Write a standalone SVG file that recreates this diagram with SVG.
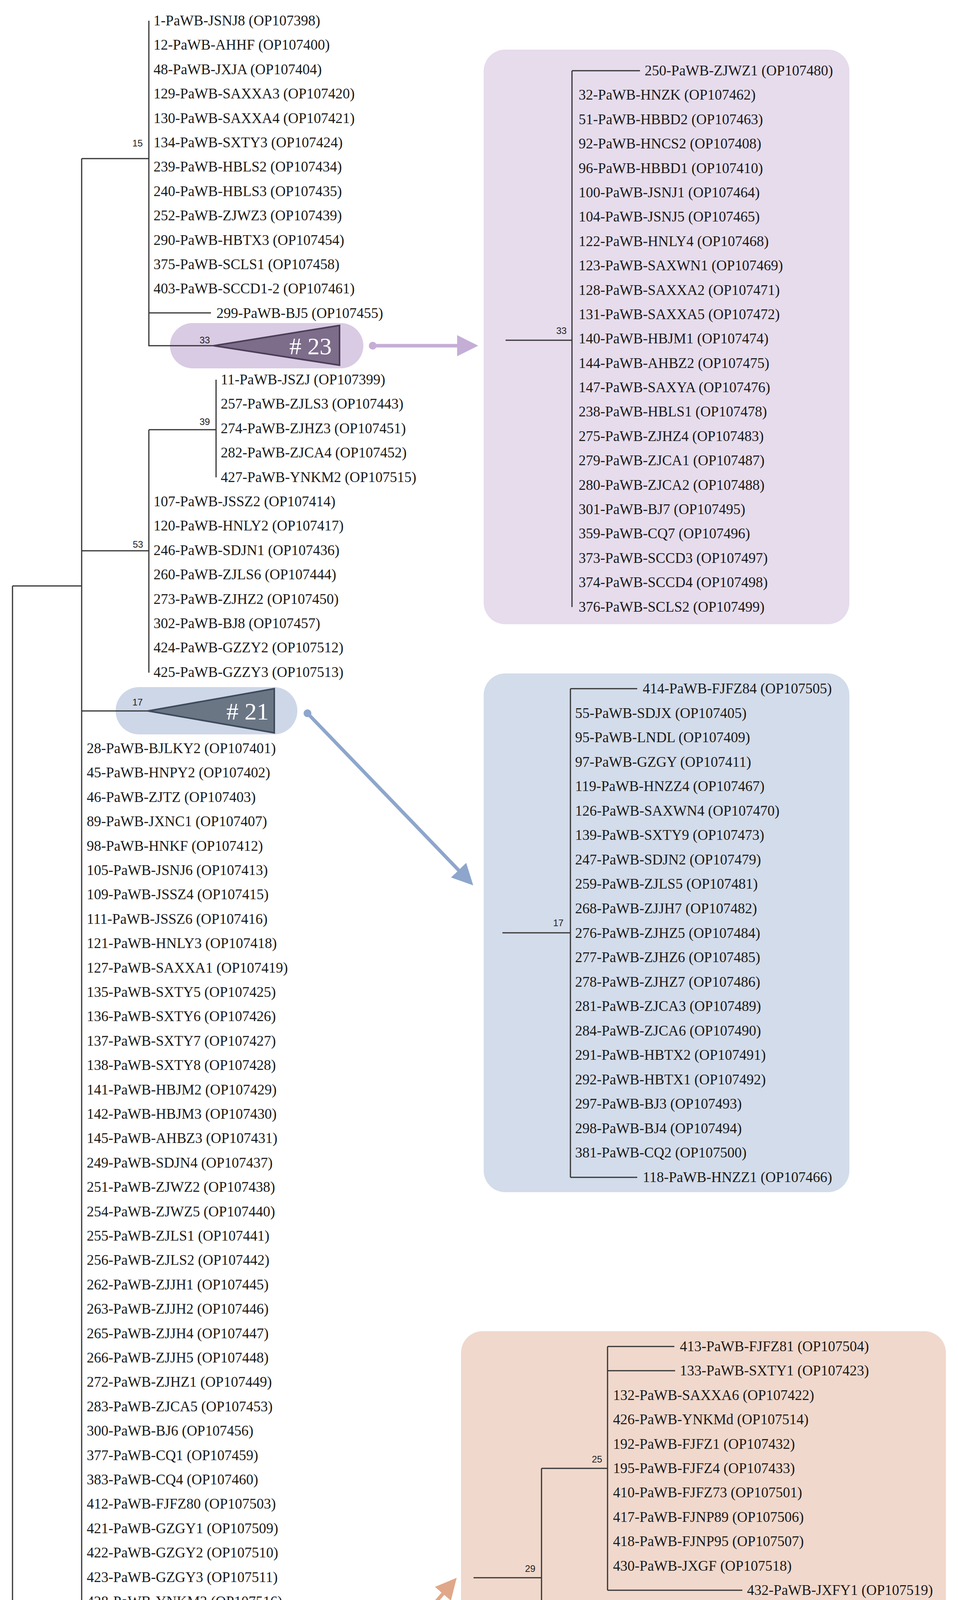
<svg xmlns="http://www.w3.org/2000/svg" width="2452" height="5020" viewBox="0 0 2452 5020">
<defs>
<style>
text{font-family:"Liberation Serif","Times New Roman",serif;font-size:37px;fill:#1a1a1a}
.s{font-family:"Liberation Sans",Arial,sans-serif;font-size:24px;text-anchor:middle;fill:#222}
.c{font-size:62px;fill:#ffffff;text-anchor:end}
.t{fill:none;stroke:#333;stroke-width:3}
.ts{font-size:37px;fill:#777}
</style>
<marker id="ap" markerWidth="6" markerHeight="6" refX="5" refY="3" orient="auto" markerUnits="strokeWidth"><path d="M0,0 L6,3 L0,6 Z" fill="#c5aed6"/></marker>
<marker id="ab" markerWidth="6" markerHeight="6" refX="5" refY="3" orient="auto" markerUnits="strokeWidth"><path d="M0,0 L6,3 L0,6 Z" fill="#8ea6cc"/></marker>
<marker id="ao" markerWidth="6" markerHeight="6" refX="5" refY="3" orient="auto" markerUnits="strokeWidth"><path d="M0,0 L6,3 L0,6 Z" fill="#e0a888"/></marker>
</defs>
<rect width="2452" height="5020" fill="#fff"/>

<g id="box-purple"><rect x="1238" y="127" width="936" height="1471" rx="55" fill="#e6dcec"/></g>
<g id="box-blue"><rect x="1238" y="1724" width="936" height="1328" rx="55" fill="#d3dcea"/></g>
<g id="box-orange"><rect x="1180" y="3408" width="1241" height="949" rx="55" fill="#f0d8cc"/></g>

<g id="collapsed-23"><rect x="435" y="827" width="495" height="116" rx="58" fill="#d9cbe3"/><polygon points="547,885 869,833 869,935" fill="#7d6c8a" stroke="#4b3d57" stroke-width="4"/><text class="c" x="849" y="907"># 23</text></g>
<g id="collapsed-21"><rect x="296" y="1759" width="465" height="121" rx="60" fill="#cdd7e8"/><polygon points="379,1820 702,1763 702,1876" fill="#6b7685" stroke="#3e4a5c" stroke-width="4"/><text class="c" x="688" y="1842"># 21</text></g>
<g id="collapsed-15"><rect x="293" y="4201" width="664" height="123" rx="61" fill="#efd5c9"/><polygon points="383,4263 899,4207 899,4320" fill="#9e8378" stroke="#5a3e33" stroke-width="4"/><text class="c" x="882" y="4285"># 15</text></g>

<g id="connectors">
<path class="t" d="M32,1500 H209 M32,1500 V4870 H894 M209,406 V4808 M209,406 H381 M381,53 V885 H547 M381,801 H540 M209,1410 H381 M381,1100 V1722 M381,1100 H553 M553,972 V1222 M209,1820 H379 M209,4263 H383 M209,4714 H382 M382,4683 V4745 M209,4808 H382"/>
<path class="t" d="M1294,871 H1464 M1464,181 V1554 M1464,181 H1638"/>
<path class="t" d="M1286,2388 H1460 M1460,1763 V3014 M1460,1763 H1631 M1460,3014 H1631"/>
<path class="t" d="M1212,4039 H1386 M1386,3759 V4321 M1386,3759 H1555 M1555,3447 V4071 M1555,3447 H1726 M1555,3509 H1728 M1555,4071 H1900 M1386,4133 H1556 M1386,4321 H1556"/>
<circle cx="954" cy="885" r="10" fill="#c5aed6"/><line x1="954" y1="885" x2="1215" y2="885" stroke="#c5aed6" stroke-width="9" marker-end="url(#ap)"/>
<circle cx="787" cy="1826" r="10" fill="#8ea6cc"/><line x1="787" y1="1826" x2="1205" y2="2260" stroke="#8ea6cc" stroke-width="9" marker-end="url(#ab)"/>
<circle cx="981" cy="4257" r="10" fill="#e0a888"/><line x1="981" y1="4257" x2="1163" y2="4046" stroke="#e0a888" stroke-width="9" marker-end="url(#ao)"/>
<path d="M395,4976 H498 M395,4962 V4990 M498,4962 V4990" stroke="#666" stroke-width="3" fill="none"/>
</g>

<g id="support">
<text class="s" x="352" y="375">15</text><text class="s" x="524" y="879">33</text><text class="s" x="524" y="1088">39</text><text class="s" x="353" y="1402">53</text><text class="s" x="352" y="1806">17</text><text class="s" x="353" y="4253">29</text><text class="s" x="351" y="4708">65</text>
<text class="s" x="1437" y="855">33</text><text class="s" x="1429" y="2371">17</text><text class="s" x="1357" y="4024">29</text><text class="s" x="1528" y="3744">25</text>
</g>

<g id="tips-top">
<text x="393" y="65">1-PaWB-JSNJ8 (OP107398)</text>
<text x="393" y="127">12-PaWB-AHHF (OP107400)</text>
<text x="393" y="190">48-PaWB-JXJA (OP107404)</text>
<text x="393" y="252">129-PaWB-SAXXA3 (OP107420)</text>
<text x="393" y="315">130-PaWB-SAXXA4 (OP107421)</text>
<text x="393" y="377">134-PaWB-SXTY3 (OP107424)</text>
<text x="393" y="439">239-PaWB-HBLS2 (OP107434)</text>
<text x="393" y="502">240-PaWB-HBLS3 (OP107435)</text>
<text x="393" y="564">252-PaWB-ZJWZ3 (OP107439)</text>
<text x="393" y="627">290-PaWB-HBTX3 (OP107454)</text>
<text x="393" y="689">375-PaWB-SCLS1 (OP107458)</text>
<text x="393" y="751">403-PaWB-SCCD1-2 (OP107461)</text>
<text x="554" y="814">299-PaWB-BJ5 (OP107455)</text>
<text x="565" y="984">11-PaWB-JSZJ (OP107399)</text>
<text x="565" y="1046">257-PaWB-ZJLS3 (OP107443)</text>
<text x="565" y="1109">274-PaWB-ZJHZ3 (OP107451)</text>
<text x="565" y="1171">282-PaWB-ZJCA4 (OP107452)</text>
<text x="565" y="1234">427-PaWB-YNKM2 (OP107515)</text>
<text x="393" y="1296">107-PaWB-JSSZ2 (OP107414)</text>
<text x="393" y="1358">120-PaWB-HNLY2 (OP107417)</text>
<text x="393" y="1421">246-PaWB-SDJN1 (OP107436)</text>
<text x="393" y="1483">260-PaWB-ZJLS6 (OP107444)</text>
<text x="393" y="1546">273-PaWB-ZJHZ2 (OP107450)</text>
<text x="393" y="1608">302-PaWB-BJ8 (OP107457)</text>
<text x="393" y="1670">424-PaWB-GZZY2 (OP107512)</text>
<text x="393" y="1733">425-PaWB-GZZY3 (OP107513)</text>
</g>

<g id="tips-main">
<text x="222" y="1928">28-PaWB-BJLKY2 (OP107401)</text>
<text x="222" y="1990">45-PaWB-HNPY2 (OP107402)</text>
<text x="222" y="2053">46-PaWB-ZJTZ (OP107403)</text>
<text x="222" y="2115">89-PaWB-JXNC1 (OP107407)</text>
<text x="222" y="2178">98-PaWB-HNKF (OP107412)</text>
<text x="222" y="2240">105-PaWB-JSNJ6 (OP107413)</text>
<text x="222" y="2302">109-PaWB-JSSZ4 (OP107415)</text>
<text x="222" y="2365">111-PaWB-JSSZ6 (OP107416)</text>
<text x="222" y="2427">121-PaWB-HNLY3 (OP107418)</text>
<text x="222" y="2490">127-PaWB-SAXXA1 (OP107419)</text>
<text x="222" y="2552">135-PaWB-SXTY5 (OP107425)</text>
<text x="222" y="2614">136-PaWB-SXTY6 (OP107426)</text>
<text x="222" y="2677">137-PaWB-SXTY7 (OP107427)</text>
<text x="222" y="2739">138-PaWB-SXTY8 (OP107428)</text>
<text x="222" y="2802">141-PaWB-HBJM2 (OP107429)</text>
<text x="222" y="2864">142-PaWB-HBJM3 (OP107430)</text>
<text x="222" y="2926">145-PaWB-AHBZ3 (OP107431)</text>
<text x="222" y="2989">249-PaWB-SDJN4 (OP107437)</text>
<text x="222" y="3051">251-PaWB-ZJWZ2 (OP107438)</text>
<text x="222" y="3114">254-PaWB-ZJWZ5 (OP107440)</text>
<text x="222" y="3176">255-PaWB-ZJLS1 (OP107441)</text>
<text x="222" y="3238">256-PaWB-ZJLS2 (OP107442)</text>
<text x="222" y="3301">262-PaWB-ZJJH1 (OP107445)</text>
<text x="222" y="3363">263-PaWB-ZJJH2 (OP107446)</text>
<text x="222" y="3426">265-PaWB-ZJJH4 (OP107447)</text>
<text x="222" y="3488">266-PaWB-ZJJH5 (OP107448)</text>
<text x="222" y="3550">272-PaWB-ZJHZ1 (OP107449)</text>
<text x="222" y="3613">283-PaWB-ZJCA5 (OP107453)</text>
<text x="222" y="3675">300-PaWB-BJ6 (OP107456)</text>
<text x="222" y="3738">377-PaWB-CQ1 (OP107459)</text>
<text x="222" y="3800">383-PaWB-CQ4 (OP107460)</text>
<text x="222" y="3862">412-PaWB-FJFZ80 (OP107503)</text>
<text x="222" y="3925">421-PaWB-GZGY1 (OP107509)</text>
<text x="222" y="3987">422-PaWB-GZGY2 (OP107510)</text>
<text x="222" y="4050">423-PaWB-GZGY3 (OP107511)</text>
<text x="222" y="4112">428-PaWB-YNKM3 (OP107516)</text>
<text x="222" y="4174">429-PaWB-YNKM4 (OP107517)</text>
<text x="222" y="4383">Mulberry dwarf phytoplasma-zjca (KP662132)</text>
<text x="222" y="4445">Mulberry dwarf phytoplasma-ahhf (KP662131)</text>
<text x="222" y="4508">Periwinkle virescence-hnhk (KP662136)</text>
<text x="222" y="4570">Chinaberry witches’-broom phytoplasma-fjya (KP662124)</text>
<text x="222" y="4633">Chinaberry witches’-broom phytoplasma-jxnc (KP662126)</text>
<text x="395" y="4695">Lettuce yellows phytoplasma-fjsm1 (KP662129)</text>
<text x="395" y="4757">Lettuce yellows phytoplasma-fjsm2 (KP662130)</text>
<text x="395" y="4820">Onion yellows phytoplasma OY-M (AP006628)</text>
<text x="909" y="4882">Aster yellows witches’-broom phytoplasma AYWB (CP000061)</text>
<text class="ts" x="83" y="4989">Tree scale: 0.005</text>
</g>

<g id="tips-purple">
<text x="1650" y="193">250-PaWB-ZJWZ1 (OP107480)</text>
<text x="1481" y="255">32-PaWB-HNZK (OP107462)</text>
<text x="1481" y="318">51-PaWB-HBBD2 (OP107463)</text>
<text x="1481" y="380">92-PaWB-HNCS2 (OP107408)</text>
<text x="1481" y="443">96-PaWB-HBBD1 (OP107410)</text>
<text x="1481" y="505">100-PaWB-JSNJ1 (OP107464)</text>
<text x="1481" y="567">104-PaWB-JSNJ5 (OP107465)</text>
<text x="1481" y="630">122-PaWB-HNLY4 (OP107468)</text>
<text x="1481" y="692">123-PaWB-SAXWN1 (OP107469)</text>
<text x="1481" y="755">128-PaWB-SAXXA2 (OP107471)</text>
<text x="1481" y="817">131-PaWB-SAXXA5 (OP107472)</text>
<text x="1481" y="879">140-PaWB-HBJM1 (OP107474)</text>
<text x="1481" y="942">144-PaWB-AHBZ2 (OP107475)</text>
<text x="1481" y="1004">147-PaWB-SAXYA (OP107476)</text>
<text x="1481" y="1066">238-PaWB-HBLS1 (OP107478)</text>
<text x="1481" y="1129">275-PaWB-ZJHZ4 (OP107483)</text>
<text x="1481" y="1191">279-PaWB-ZJCA1 (OP107487)</text>
<text x="1481" y="1254">280-PaWB-ZJCA2 (OP107488)</text>
<text x="1481" y="1316">301-PaWB-BJ7 (OP107495)</text>
<text x="1481" y="1378">359-PaWB-CQ7 (OP107496)</text>
<text x="1481" y="1441">373-PaWB-SCCD3 (OP107497)</text>
<text x="1481" y="1503">374-PaWB-SCCD4 (OP107498)</text>
<text x="1481" y="1566">376-PaWB-SCLS2 (OP107499)</text>
</g>

<g id="tips-blue">
<text x="1645" y="1775">414-PaWB-FJFZ84 (OP107505)</text>
<text x="1472" y="1838">55-PaWB-SDJX (OP107405)</text>
<text x="1472" y="1900">95-PaWB-LNDL (OP107409)</text>
<text x="1472" y="1963">97-PaWB-GZGY (OP107411)</text>
<text x="1472" y="2025">119-PaWB-HNZZ4 (OP107467)</text>
<text x="1472" y="2088">126-PaWB-SAXWN4 (OP107470)</text>
<text x="1472" y="2150">139-PaWB-SXTY9 (OP107473)</text>
<text x="1472" y="2213">247-PaWB-SDJN2 (OP107479)</text>
<text x="1472" y="2275">259-PaWB-ZJLS5 (OP107481)</text>
<text x="1472" y="2338">268-PaWB-ZJJH7 (OP107482)</text>
<text x="1472" y="2401">276-PaWB-ZJHZ5 (OP107484)</text>
<text x="1472" y="2463">277-PaWB-ZJHZ6 (OP107485)</text>
<text x="1472" y="2526">278-PaWB-ZJHZ7 (OP107486)</text>
<text x="1472" y="2588">281-PaWB-ZJCA3 (OP107489)</text>
<text x="1472" y="2651">284-PaWB-ZJCA6 (OP107490)</text>
<text x="1472" y="2713">291-PaWB-HBTX2 (OP107491)</text>
<text x="1472" y="2776">292-PaWB-HBTX1 (OP107492)</text>
<text x="1472" y="2838">297-PaWB-BJ3 (OP107493)</text>
<text x="1472" y="2901">298-PaWB-BJ4 (OP107494)</text>
<text x="1472" y="2963">381-PaWB-CQ2 (OP107500)</text>
<text x="1645" y="3026">118-PaWB-HNZZ1 (OP107466)</text>
</g>

<g id="tips-orange">
<text x="1740" y="3459">413-PaWB-FJFZ81 (OP107504)</text>
<text x="1740" y="3521">133-PaWB-SXTY1 (OP107423)</text>
<text x="1569" y="3584">132-PaWB-SAXXA6 (OP107422)</text>
<text x="1569" y="3646">426-PaWB-YNKMd (OP107514)</text>
<text x="1569" y="3709">192-PaWB-FJFZ1 (OP107432)</text>
<text x="1569" y="3771">195-PaWB-FJFZ4 (OP107433)</text>
<text x="1569" y="3833">410-PaWB-FJFZ73 (OP107501)</text>
<text x="1569" y="3896">417-PaWB-FJNP89 (OP107506)</text>
<text x="1569" y="3958">418-PaWB-FJNP95 (OP107507)</text>
<text x="1569" y="4021">430-PaWB-JXGF (OP107518)</text>
<text x="1912" y="4083">432-PaWB-JXFY1 (OP107519)</text>
<text x="1569" y="4145">194-PaWB-FJFZ3 (OP107477)</text>
<text x="1397" y="4208">84-PaWB-FJMFS3 (OP107406)</text>
<text x="1397" y="4270">411-PaWB-FJFZ79 (OP107502)</text>
<text x="1569" y="4333">420-PaWB-SCCD5a (OP107508)</text>
</g>
</svg>
